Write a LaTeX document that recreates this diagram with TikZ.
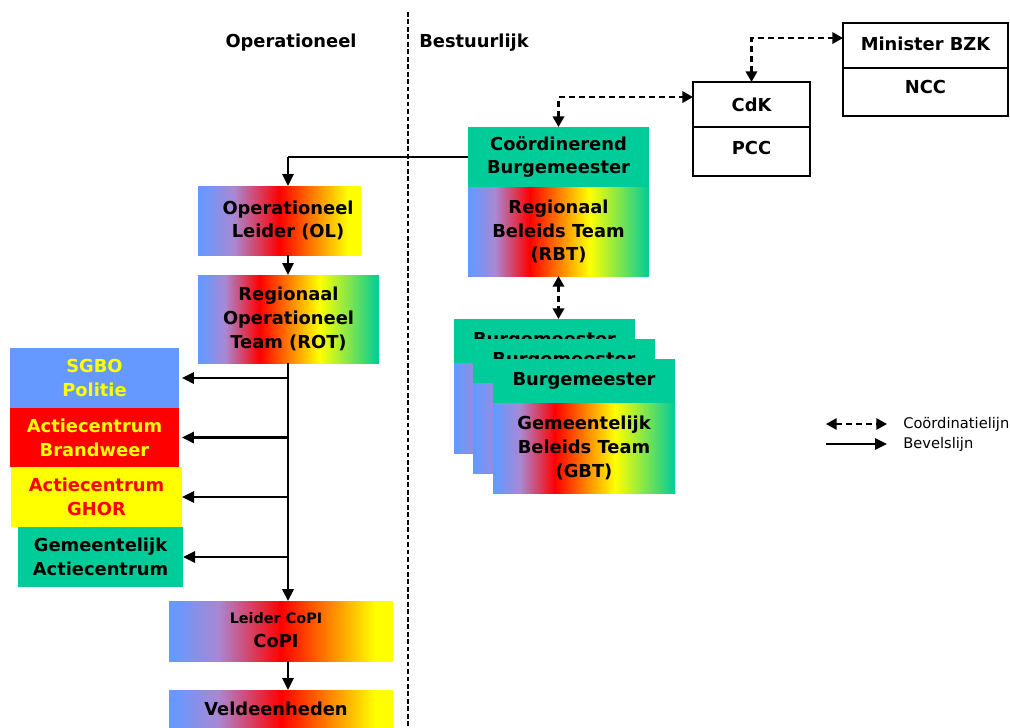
\documentclass[tikz,border=0pt]{standalone}
\usepackage{fontspec}
\setmainfont{DejaVu Sans}
\usetikzlibrary{arrows.meta,calc}
\definecolor{cblue}{RGB}{102,153,255}
\definecolor{cred}{RGB}{255,0,0}
\definecolor{cyel}{RGB}{255,255,0}
\definecolor{cgreen}{RGB}{0,204,153}
\definecolor{clav}{RGB}{170,135,210}
\pgfdeclarehorizontalshading{rainbow}{100bp}{color(0bp)=(cblue); color(25bp)=(cblue); color(26bp)=(cblue); color(32.5bp)=(clav); color(42bp)=(cred); color(58.5bp)=(cyel); color(75bp)=(cgreen); color(100bp)=(cgreen)}
\pgfdeclarehorizontalshading{warm}{100bp}{color(0bp)=(cblue); color(25bp)=(cblue); color(26bp)=(cblue); color(36bp)=(clav); color(50bp)=(cred); color(71bp)=(cyel); color(75bp)=(cyel); color(100bp)=(cyel)}
\begin{document}
\begin{tikzpicture}[x=0.75pt,y=-0.75pt,
  lbl/.style={font=\bfseries\fontsize{13.4}{17.8}\selectfont, align=center, text=black, inner sep=0pt},
  rect/.style n args={4}{at={({(#1+#3)/2},{(#2+#4)/2})}, minimum width={(#3-#1)*0.75pt}, minimum height={(#4-#2)*0.75pt}},
  bx/.style={lbl, inner sep=0pt, outer sep=0pt},
  framebox/.style={bx, draw=black, line width=0.8pt, fill=white},
  rainbowbox/.style={bx, shade, shading=rainbow},
  warmbox/.style={bx, shade, shading=warm},
  legtxt/.style={font=\fontsize{11}{12}\selectfont, anchor=west, inner sep=0pt},
  sepline/.style={line width=1.3pt, dash pattern=on 3.6pt off 2pt},
  cmdarrow/.style={line width=1.6pt, -{Triangle[length=9pt,width=8.5pt]}},
  crdarrow/.style={line width=1.8pt, dash pattern=on 4.5pt off 3pt, {Triangle[length=8pt,width=8.5pt]}-{Triangle[length=8pt,width=8.5pt]}},
  thinline/.style={line width=0.8pt}
]
\useasboundingbox (0,0) rectangle (1010,728);
% separator
\draw[sepline] (408,12) -- (408,728);
\node[lbl] (hop) at (291,43) {Operationeel};
\node[lbl] (hbe) at (474,43) {Bestuurlijk};

% top right boxes
\node[framebox, rect={843}{23}{1008}{68}, text depth=3pt] (mint) {Minister BZK};
\node[framebox, rect={843}{68}{1008}{116}, text depth=7pt] (minb) {NCC};
\node[framebox, rect={693}{82}{810}{127}] (cdkt) {CdK};
\node[framebox, rect={693}{127}{810}{176}, text depth=6pt] (cdkb) {PCC};

% RBT
\node[bx, fill=cgreen, rect={468}{127}{649}{187}] (cb) {Coördinerend\\Burgemeester};
\node[rainbowbox, rect={468}{187}{649}{276}] (rbt) {Regionaal\\Beleids Team\\(RBT)};

% stack of municipalities
\node[bx, fill=cgreen, rect={454}{319}{635}{363}] (b1) {Burgemeester};
\node[rainbowbox, rect={454}{363}{635}{453}] (g1) {};
\node[bx, fill=cgreen, rect={473}{339}{655}{383}] (b2) {Burgemeester};
\node[rainbowbox, rect={473}{383}{655}{473}] (g2) {};
\node[bx, fill=cgreen, rect={493}{359}{675}{403}] (b3) {Burgemeester};
\node[rainbowbox, rect={493}{403}{675}{493}] (g3) {Gemeentelijk\\Beleids Team\\(GBT)};

% operational column
\node[warmbox, rect={198}{186}{361}{255}] (ol) {};
\node[lbl] (olt) at (288,220.5) {Operationeel\\Leider (OL)};
\node[rainbowbox, rect={198}{275}{379}{363}] (rot) {Regionaal\\Operationeel\\Team (ROT)};

\node[bx, fill=cblue, text=cyel, rect={10}{348}{179}{408}] (sgbo) {SGBO\\Politie};
\node[bx, fill=cred, text=cyel, rect={10}{408}{179}{467}] (brw) {Actiecentrum\\Brandweer};
\node[bx, fill=cyel, text=cred, rect={11}{467}{182}{527}] (ghor) {Actiecentrum\\GHOR};
\node[bx, fill=cgreen, rect={18}{527}{183}{587}] (gac) {Gemeentelijk\\Actiecentrum};

\node[warmbox, rect={169}{601}{393}{661}] (copi) {};
\node[lbl, font=\bfseries\fontsize{10.8}{12}\selectfont] (copil) at (276,618) {Leider CoPI};
\node[lbl] (copim) at (276,641) {CoPI};
\node[warmbox, rect={169}{690}{393}{728}] (veld) {};
\node[lbl] (veldt) at (276,709) {Veldeenheden};

% command lines
\coordinate (trunk) at (288,0);
\coordinate (elbow) at (trunk |- cb.west);
\draw[thinline] (cb.west) -- (elbow);
\draw[cmdarrow] (elbow) -- (ol.north -| trunk);
\draw[cmdarrow] (ol.south -| trunk) -- (rot.north -| trunk);
\draw[cmdarrow, line width=2.2pt] (rot.south -| trunk) -- (copi.north -| trunk);
\draw[cmdarrow, shorten >=2.2pt] (trunk |- sgbo.east) -- (sgbo.east);
\draw[cmdarrow, shorten >=2.2pt] (trunk |- brw.east) -- (brw.east);
\draw[cmdarrow] (trunk |- ghor.east) -- (ghor.east);
\draw[cmdarrow] (trunk |- gac.east) -- (gac.east);
\draw[cmdarrow] (copi.south -| trunk) -- (veld.north -| trunk);

% coordination lines
\draw[crdarrow] (rbt.south) -- (rbt.south |- b1.north);
\draw[crdarrow] (cb.north) |- ([yshift=5.6pt]cdkt.west);
\draw[crdarrow] (cdkt.north) |- ([yshift=5.6pt]mint.west);

% legend
\coordinate (l1a) at (826,424); \coordinate (l1b) at (887,424);
\coordinate (l2a) at (826,444); \coordinate (l2b) at (887,444);
\draw[crdarrow, line width=1.5pt] (l1a) -- (l1b);
\draw[cmdarrow, line width=1.5pt] (l2a) -- (l2b);
\node[legtxt] (lt1) at (903,424) {Coördinatielijn};
\node[legtxt] (lt2) at (903,444) {Bevelslijn};
\end{tikzpicture}
\end{document}
